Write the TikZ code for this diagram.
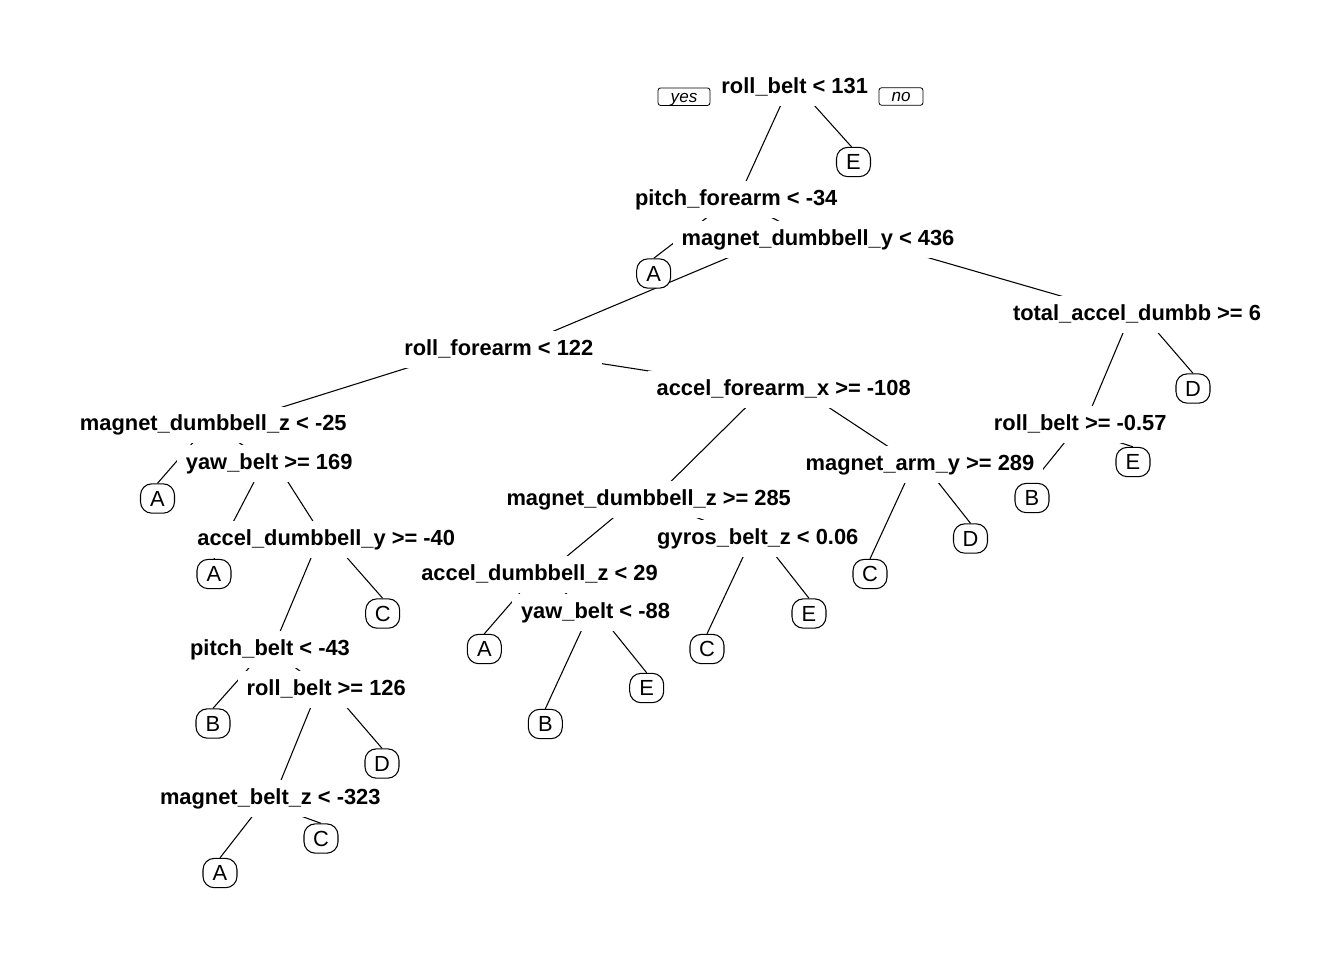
\documentclass[tikz,border=0pt]{standalone}
\usepackage{fontspec}
\setmainfont{Liberation Sans}
\usetikzlibrary{calc}
\pgfdeclarelayer{edges}
\pgfsetlayers{edges,main}
\newcommand\brS[4]{\draw[edge] ($(#1.center)+(#2,0)$) -- ($(#3.center)+(#4,0)$);}
\newcommand\brL[4]{\draw[edge] ($(#1.center)+(#2,0)$) -- ($(#3.north)+(#4,0)$);}
\begin{document}
\begin{tikzpicture}[x=0.75pt,y=-0.75pt,
  split/.style={font=\fontsize{16.4}{19}\selectfont\bfseries, fill=white,
    text height=12pt, text depth=3.4pt, inner xsep=6.75pt, inner ysep=6pt, anchor=base},
  leaf/.style={draw, line width=0.8pt, rounded corners=8.5pt, fill=white,
    minimum width=25.5pt, minimum height=22pt, inner sep=0pt,
    font=\fontsize{16.4}{19}\selectfont},
  yesno/.style={draw, line width=0.6pt, rounded corners=2pt, inner sep=0pt,
    minimum height=13.2pt, text height=8.6pt, text depth=0.6pt,
    font=\fontsize{12.8}{15}\selectfont\itshape},
  edge/.style={line width=0.8pt, black}]
\useasboundingbox (0,0) rectangle (1344,960);
% split labels
\node[split] (s1) at (794.7,93.3) {roll\_belt < 131};
\node[split] (s2) at (736.2,205) {pitch\_forearm < -34};
\node[split] (s3) at (818,245) {magnet\_dumbbell\_y < 436};
\node[split] (s4) at (1137,320) {total\_accel\_dumbb >= 6};
\node[split] (s5) at (498.8,355) {roll\_forearm < 122};
\node[split] (s6) at (783.7,395) {accel\_forearm\_x >= -108};
\node[split] (s7) at (213.3,430.5) {magnet\_dumbbell\_z < -25};
\node[split] (s8) at (269.2,469.3) {yaw\_belt >= 169};
\node[split] (s9) at (1080.2,430) {roll\_belt >= -0.57};
\node[split] (s10) at (920,470) {magnet\_arm\_y >= 289};
\node[split] (s11) at (648.7,505) {magnet\_dumbbell\_z >= 285};
\node[split] (s12) at (326.2,545) {accel\_dumbbell\_y >= -40};
\node[split] (s13) at (757.8,544.3) {gyros\_belt\_z < 0.06};
\node[split] (s14) at (539.5,580) {accel\_dumbbell\_z < 29};
\node[split] (s15) at (595.5,618.3) {yaw\_belt < -88};
\node[split] (s16) at (270,655) {pitch\_belt < -43};
\node[split] (s17) at (326.2,695) {roll\_belt >= 126};
\node[split] (s18) at (270.3,804.3) {magnet\_belt\_z < -323};
% leaves
\node[leaf] (l1) at (853.5,162) {E};
\node[leaf] (l2) at (653.7,273.5) {A};
\node[leaf] (l3) at (1193,388.5) {D};
\node[leaf] (l4) at (1133,462) {E};
\node[leaf] (l5) at (1032,498) {B};
\node[leaf] (l6) at (970.5,538.5) {D};
\node[leaf] (l7) at (870,574) {C};
\node[leaf] (l8) at (157.5,498.5) {A};
\node[leaf] (l9) at (214,574) {A};
\node[leaf] (l10) at (382.7,613.5) {C};
\node[leaf] (l11) at (809,613.5) {E};
\node[leaf] (l12) at (484.3,649) {A};
\node[leaf] (l13) at (707,649) {C};
\node[leaf] (l14) at (646.7,688) {E};
\node[leaf] (l15) at (545.3,724) {B};
\node[leaf] (l16) at (213,723.5) {B};
\node[leaf] (l17) at (382,763.5) {D};
\node[leaf] (l18) at (321,838.5) {C};
\node[leaf] (l19) at (220,873) {A};
% yes / no
\node[yesno, minimum width=39pt] (yes) at (684,96.7) {yes};
\node[yesno, minimum width=33pt] (no) at (901,96.5) {no};
% branches
\begin{pgfonlayer}{edges}
\fill[white] (0,0) rectangle (1344,960);
\brS{s1}{-5.9}{s2}{1.6}
\brL{s1}{3.6}{l1}{-2}
\brL{s2}{-5.4}{l2}{0}
\brS{s2}{-0.7}{s3}{-3.3}
\brS{s3}{-46.1}{s5}{11.7}
\brS{s3}{46.5}{s4}{-12.9}
\brS{s4}{-6.1}{s9}{4.3}
\brL{s4}{5.1}{l3}{0}
\brL{s9}{-0.9}{l5}{0}
\brL{s9}{-17.8}{l4}{0}
\brS{s5}{-32}{s7}{12.6}
\brS{s5}{11}{s6}{-17.7}
\brS{s6}{-19.5}{s11}{4.2}
\brS{s6}{17.5}{s10}{-5}
\brL{s10}{-6.4}{l7}{0}
\brL{s10}{3.9}{l6}{0}
\brS{s11}{-13.1}{s14}{5.7}
\brS{s11}{0.8}{s13}{-6.9}
\brL{s13}{-6.1}{l13}{0}
\brL{s13}{4.3}{l11}{0}
\brL{s14}{-3.6}{l12}{0}
\brS{s14}{2.7}{s15}{-5.8}
\brL{s15}{-5.8}{l15}{0}
\brL{s15}{2.7}{l14}{0}
\brL{s7}{-4.9}{l8}{0}
\brS{s7}{-1.1}{s8}{1.2}
\brL{s8}{-5.6}{l9}{0}
\brS{s8}{7}{s12}{-1.7}
\brS{s12}{-7.3}{s16}{2.6}
\brL{s12}{4.6}{l10}{0}
\brL{s16}{-4.5}{l16}{0}
\brS{s16}{0.7}{s17}{-1.9}
\brS{s17}{-8.1}{s18}{3.2}
\brL{s17}{5}{l17}{0}
\brL{s18}{-4.1}{l19}{0}
\brL{s18}{-17.8}{l18}{0}
\end{pgfonlayer}
\end{tikzpicture}
\end{document}
